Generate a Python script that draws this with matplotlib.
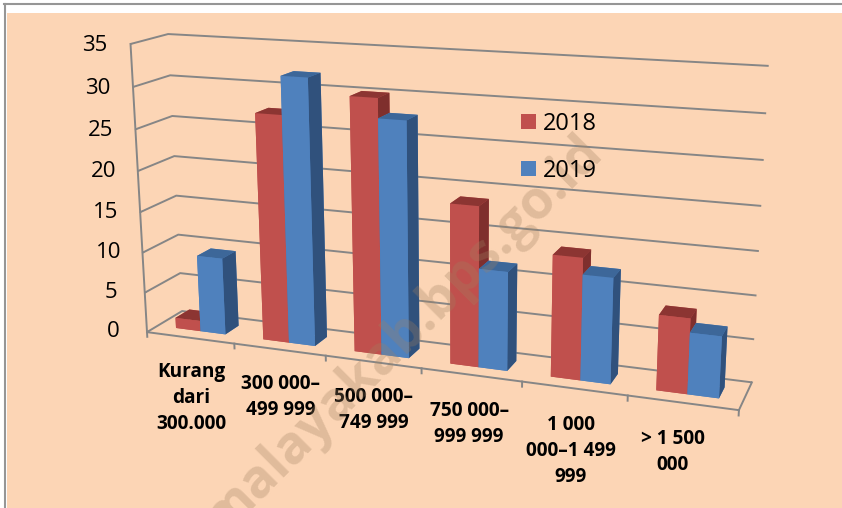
import numpy as np
import matplotlib
matplotlib.use("Agg")
import matplotlib.pyplot as plt
from matplotlib.lines import Line2D
from matplotlib.patches import Patch, Rectangle
from mpl_toolkits.mplot3d import proj3d

categories = ["Kurang\ndari\n300.000", "300 000–\n499 999", "500 000–\n749 999",
              "750 000–\n999 999", "1 000\n000–1 499\n999", "> 1 500\n000"]
v2018 = [1.3, 27.4, 30.1, 18.8, 14.1, 8.6]
v2019 = [9.5, 31.9, 27.8, 11.6, 12.2, 7.0]
zticks = [0, 5, 10, 15, 20, 25, 30, 35]
label_x = [0.5, 1.5, 2.5, 3.48, 4.47, 5.42]
xticks = [0, 1, 2, 3, 4, 5, 6]

plt.rcParams["font.family"] = "Open Sans"
GREY = "#868686"
W, H = 842, 508
fig = plt.figure(figsize=(W/100, H/100), dpi=100, facecolor="white")

# peach panel and the thin frame of the page
fig.add_artist(Rectangle((7/W, 0), 1, 1-13/H, transform=fig.transFigure, color="#FCD5B5", lw=0, zorder=-2))
fig.add_artist(Line2D([5/W, 5/W], [0, 1-3.5/H], color="#969696", lw=1.5, zorder=-1))
fig.add_artist(Line2D([4/W, 1], [1-3.5/H, 1-3.5/H], color="#969696", lw=1.5, zorder=-1))

# camera found by fitting the corners of the chart box
s = 689.7754
ax = fig.add_axes([(424.6456-s/2)/W, 1-(218.5497+s/2)/H, s/W, s/H], projection="3d")
ax.set_xlim(0, 6, view_margin=0)
ax.set_ylim(0, 1, view_margin=0)
ax.set_zlim(0, 35, view_margin=0)
ax.view_init(14.8865, -69.2221, 0.2850)
ax.set_proj_type("persp", focal_length=float(np.exp(-0.9129)))
ax.set_box_aspect((1, 0.1179, 0.4919))
ax.patch.set_alpha(0)

for a in (ax.xaxis, ax.yaxis, ax.zaxis):
    a.set_pane_color((1, 1, 1, 0))
    a.pane.set_edgecolor((1, 1, 1, 0))
    a.line.set_color(GREY)
    a.line.set_linewidth(1.4)
    a._axinfo["grid"]["color"] = GREY
    a._axinfo["grid"]["linewidth"] = 1.4
    a._axinfo["tick"]["outward_factor"] = 0.5
    a._axinfo["tick"]["inward_factor"] = 0
ax.xaxis._axinfo["grid"]["linewidth"] = 0
ax.yaxis._axinfo["grid"]["linewidth"] = 0
ax.set_yticks([])
ax.set_xticks([])
ax.set_zticks(zticks)
ax.zaxis.set_ticks_position("lower")
ax.tick_params(axis="z", labelsize=16, pad=8, color=GREY, width=1.4)
for t in ax.zaxis.get_major_ticks():
    t.label1.set_va("center_baseline")

ax.computed_zorder = False
# category ticks hang straight down from the front edge of the floor
for x in xticks:
    ax.plot([x, x], [0, 0], [0, -0.6], color=GREY, lw=1.4, zorder=2, clip_on=False)

red = ["#C0504D", "#8C3532", "#C0504D", "#C0504D", "#C0504D", "#7F2F2D"]
blue = ["#4F81BD", "#3D6799", "#4F81BD", "#4F81BD", "#4F81BD", "#30517C"]
for i in range(6):
    ax.bar3d(i+0.214, 0.3, 0, 0.286, 0.4, v2018[i], color=red, shade=False, linewidth=0, zorder=10+2*i)
    ax.bar3d(i+0.5, 0.3, 0, 0.286, 0.4, v2019[i], color=blue, shade=False, linewidth=0, zorder=11+2*i)

M = ax.get_proj()
for x, lab in zip(label_x, categories):
    px, py, _ = proj3d.proj_transform(x, 0, -3.1, M)
    ax.text2D(px, py, lab, transform=ax.transData, ha="center", va="top", fontsize=13.7,
              fontweight="bold", color="black", linespacing=1.4)

fig.legend([Patch(color="#C0504D", lw=0), Patch(color="#4F81BD", lw=0)], ["2018", "2019"],
           loc="upper left", bbox_to_anchor=(521/W, 1-112/H), frameon=False, fontsize=17,
           handlelength=0.62, handleheight=0.62, handletextpad=0.32, labelspacing=0.97,
           borderpad=0, borderaxespad=0)

fig.text(403/W, 1-335/H, "malayakab.bps.go.id", rotation=45, rotation_mode="anchor", ha="center", va="center",
         fontsize=38, fontweight="bold", color="#A08060", alpha=0.3)

fig.savefig("out.png", dpi=100)
